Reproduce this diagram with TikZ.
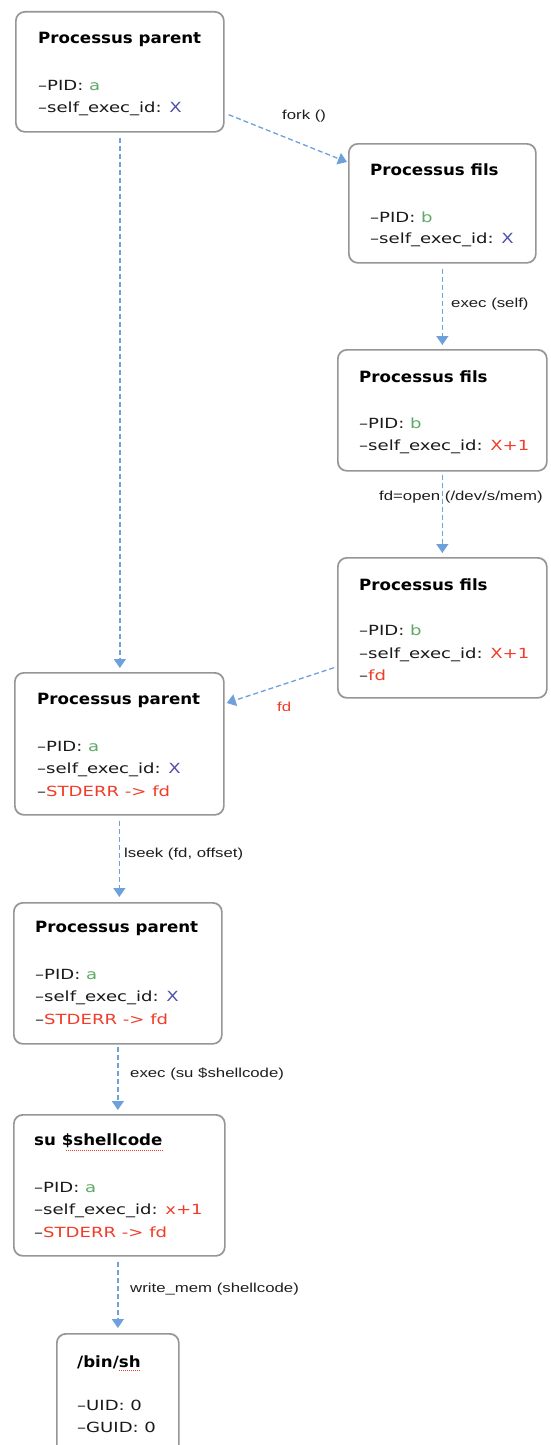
\documentclass[tikz,border=0pt]{standalone}
\usepackage{fontspec}
\usetikzlibrary{arrows.meta,calc}

% fonts: bold titles, wide body text, small helvetica-like labels
\newfontfamily\ttlfam{DejaVu Sans}[FakeStretch=1.075]
\newfontfamily\bodyfam{DejaVu Sans}[FakeStretch=1.29]
\newfontfamily\lblfam{Liberation Sans}[FakeStretch=1.29]
\newcommand\ttlfont{\ttlfam\bfseries\fontsize{15.5}{18}\selectfont}
\newcommand\bodyfont{\bodyfam\fontsize{14}{17}\selectfont}
\newcommand\lblfont{\lblfam\fontsize{13}{15}\selectfont}

\definecolor{idgreen}{RGB}{95,170,105}
\definecolor{idblue}{RGB}{80,80,170}
\definecolor{idred}{RGB}{240,60,40}
\definecolor{arrowblue}{RGB}{110,160,220}
\definecolor{boxgray}{RGB}{150,150,150}
\definecolor{lblgray}{RGB}{30,30,30}

\tikzset{
  procbox/.style={draw=boxgray, line width=1.7pt, rounded corners=9pt, fill=white,
    anchor=north west, inner sep=0pt},
  ttl/.style={anchor=base west, inner sep=0pt, font=\ttlfont},
  ln/.style={anchor=base west, inner sep=0pt, font=\bodyfont, text=black!90},
  lbl/.style={anchor=base west, inner sep=0pt, font=\lblfont, text=lblgray},
  flow/.style={draw=arrowblue, line width=1.3pt, dash pattern=on 5pt off 3pt,
    -{Triangle[width=12pt,length=9pt]}},
  squiggle/.style={draw=idred, line width=1pt, dash pattern=on 1pt off 1pt},
}

\begin{document}
\begin{tikzpicture}[x=1pt,y=-1pt]
\useasboundingbox (0,0) rectangle (550,1445);
\fill[white] (0,0) rectangle (550,1445);

% process boxes
\node[procbox, minimum width=208, minimum height=120] (p1) at (15,11) {};
\node[procbox, minimum width=187, minimum height=119] (p2) at (348,143) {};
\node[procbox, minimum width=209, minimum height=121] (p3) at (337,349) {};
\node[procbox, minimum width=209, minimum height=140] (p4) at (337,557) {};
\node[procbox, minimum width=209, minimum height=142] (p5) at (14,672) {};
\node[procbox, minimum width=208, minimum height=141] (p6) at (13,902) {};
\node[procbox, minimum width=211, minimum height=141] (p7) at (13,1114) {};
\node[procbox, minimum width=122, minimum height=130] (p8) at (56,1333) {};

% box contents
\node[ttl] (p1t) at ($(p1.north west)+(23,33)$) {Processus parent};
\node[ln] (p1a) at ($(p1.north west)+(23,79)$) {–PID: \textcolor{idgreen}{a}};
\node[ln] (p1b) at ($(p1.north west)+(23,101)$) {–self\_exec\_id: \textcolor{idblue}{X}};

\node[ttl] (p2t) at ($(p2.north west)+(22,32)$) {Processus fils};
\node[ln] (p2a) at ($(p2.north west)+(22,79)$) {–PID: \textcolor{idgreen}{b}};
\node[ln] (p2b) at ($(p2.north west)+(22,100)$) {–self\_exec\_id: \textcolor{idblue}{X}};

\node[ttl] (p3t) at ($(p3.north west)+(22,33)$) {Processus fils};
\node[ln] (p3a) at ($(p3.north west)+(22,79)$) {–PID: \textcolor{idgreen}{b}};
\node[ln] (p3b) at ($(p3.north west)+(22,101)$) {–self\_exec\_id: \textcolor{idred}{X+1}};

\node[ttl] (p4t) at ($(p4.north west)+(22,33)$) {Processus fils};
\node[ln] (p4a) at ($(p4.north west)+(22,78)$) {–PID: \textcolor{idgreen}{b}};
\node[ln] (p4b) at ($(p4.north west)+(22,101)$) {–self\_exec\_id: \textcolor{idred}{X+1}};
\node[ln] (p4c) at ($(p4.north west)+(22,123)$) {–\textcolor{idred}{fd}};

\node[ttl] (p5t) at ($(p5.north west)+(23,32)$) {Processus parent};
\node[ln] (p5a) at ($(p5.north west)+(23,79)$) {–PID: \textcolor{idgreen}{a}};
\node[ln] (p5b) at ($(p5.north west)+(23,101.5)$) {–self\_exec\_id: \textcolor{idblue}{X}};
\node[ln] (p5c) at ($(p5.north west)+(23,124)$) {–\textcolor{idred}{STDERR -> fd}};

\node[ttl] (p6t) at ($(p6.north west)+(22,30)$) {Processus parent};
\node[ln] (p6a) at ($(p6.north west)+(22,77)$) {–PID: \textcolor{idgreen}{a}};
\node[ln] (p6b) at ($(p6.north west)+(22,99.5)$) {–self\_exec\_id: \textcolor{idblue}{X}};
\node[ln] (p6c) at ($(p6.north west)+(22,122)$) {–\textcolor{idred}{STDERR -> fd}};

\node[ttl] (p7t) at ($(p7.north west)+(21,31)$) {su \$shellcode};
\node[ln] (p7a) at ($(p7.north west)+(21,78)$) {–PID: \textcolor{idgreen}{a}};
\node[ln] (p7b) at ($(p7.north west)+(21,100.5)$) {–self\_exec\_id: \textcolor{idred}{x+1}};
\node[ln] (p7c) at ($(p7.north west)+(21,123)$) {–\textcolor{idred}{STDERR -> fd}};

\node[ttl] (p8t) at ($(p8.north west)+(21,34)$) {/bin/sh};
\node[ln] (p8a) at ($(p8.north west)+(21,77)$) {–UID: 0};
\node[ln] (p8b) at ($(p8.north west)+(21,99)$) {–GUID: 0};

% spell-check underlines
\draw[squiggle] ($(p7t.base west)+(32,5)$) -- ($(p7t.base east)+(0,5)$);
\draw[squiggle] ($(p8t.base east)+(-22,3)$) -- ($(p8t.base east)+(0,3)$);

% connectors
\coordinate (forkA) at ($(p1.south east)+(4,-18)$);
\coordinate (forkB) at ($(p2.north west)+(-1,19)$);
\draw[flow] (forkA) -- (forkB);
\draw[flow, shorten <=5pt, shorten >=4pt] (p1.south) -- (p1.south |- p5.north);
\draw[flow, shorten <=5pt, shorten >=4pt] (p2.south) -- (p3.north);
\draw[flow, shorten <=3pt, shorten >=4pt] (p3.south) -- (p4.north);
\coordinate (fdA) at ($(p4.south west)+(-3,-31)$);
\coordinate (fdB) at ($(p5.north east)+(2,31)$);
\draw[flow] (fdA) -- (fdB);
\draw[flow, shorten <=5pt, shorten >=5pt] (p5.south) -- (p5.south |- p6.north);
\draw[flow, shorten <=2pt, shorten >=4pt] (p6.south) -- (p6.south |- p7.north);
\draw[flow, shorten <=5pt, shorten >=5pt] (p8.north |- p7.south) -- (p8.north);

% connector labels
\node[lbl] (lfork) at (282,119) {fork ()};
\node[lbl] (lexec) at (451,307) {exec (self)};
\node[lbl] (lopen) at (379,500) {fd=open (/dev/s/mem)};
\node[lbl, text=idred] (lfd) at (277,711) {fd};
\node[lbl] (lseek) at (124,857) {lseek (fd, offset)};
\node[lbl] (lsu) at (130,1077) {exec (su \$shellcode)};
\node[lbl] (lwrite) at (130,1292) {write\_mem (shellcode)};
\end{tikzpicture}
\end{document}
